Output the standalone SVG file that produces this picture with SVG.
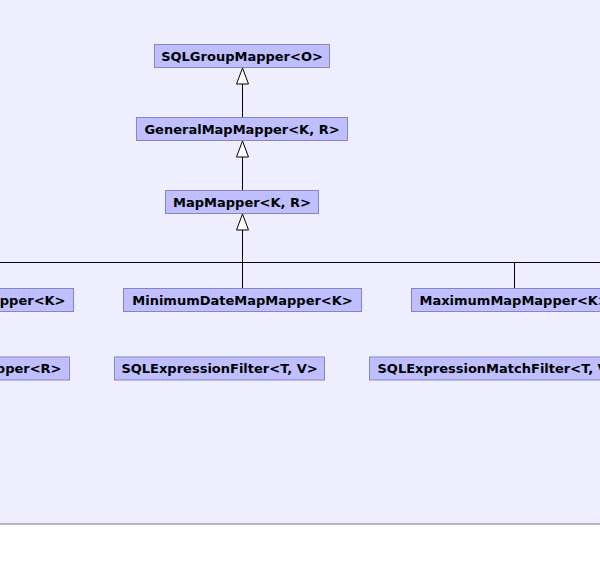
<svg xmlns="http://www.w3.org/2000/svg" width="600" height="562" viewBox="0 0 600 562">
<style>
.node rect{fill:#bfbfff;stroke:#8585c0;stroke-width:1}
.node text{font-family:"DejaVu Sans",sans-serif;font-weight:bold;font-size:13px;fill:#000}
.edge{stroke:#000;stroke-width:1;fill:none}
.head{fill:#fff;stroke:#000;stroke-width:1}
</style>
<rect x="0" y="0" width="600" height="524" fill="#eeeeff"/>
<line x1="0" y1="524" x2="600" y2="524" stroke="#a0a0b4" stroke-width="1.5"/>
<g id="connectors">
<line class="edge" x1="242.5" y1="84" x2="242.5" y2="117.5"/>
<polygon class="head" points="242.5,68 236.5,84 248.5,84"/>
<line class="edge" x1="242.5" y1="157" x2="242.5" y2="190.5"/>
<polygon class="head" points="242.5,141 236.5,157 248.5,157"/>
<line class="edge" x1="242.5" y1="230" x2="242.5" y2="288.5"/>
<polygon class="head" points="242.5,214 236.5,230 248.5,230"/>
<line class="edge" x1="0" y1="262.5" x2="600" y2="262.5"/>
<line class="edge" x1="514.5" y1="262.5" x2="514.5" y2="288.5"/>
</g>
<g id="n-sqlgroupmapper" class="node"><rect x="154.5" y="44.5" width="175" height="23"/><text x="242" y="60.5" text-anchor="middle">SQLGroupMapper&lt;O&gt;</text></g>
<g id="n-generalmapmapper" class="node"><rect x="136.5" y="117.5" width="211" height="23"/><text x="242" y="133.5" text-anchor="middle">GeneralMapMapper&lt;K, R&gt;</text></g>
<g id="n-mapmapper" class="node"><rect x="165.5" y="190.5" width="153" height="23"/><text x="242" y="206.5" text-anchor="middle">MapMapper&lt;K, R&gt;</text></g>
<g id="n-left-top" class="node"><rect x="-150.5" y="288.5" width="224" height="23"/><text x="65.5" y="304.5" text-anchor="end">MapMapper&lt;K&gt;</text></g>
<g id="n-minimumdatemapmapper" class="node"><rect x="123.5" y="288.5" width="238" height="23"/><text x="242.5" y="304.5" text-anchor="middle">MinimumDateMapMapper&lt;K&gt;</text></g>
<g id="n-maximummapmapper" class="node"><rect x="411.5" y="288.5" width="206" height="23"/><text x="419.5" y="304.5">MaximumMapMapper&lt;K&gt;</text></g>
<g id="n-left-bottom" class="node"><rect x="-150.5" y="357" width="220" height="23"/><text x="61.5" y="373" text-anchor="end">MapMapper&lt;R&gt;</text></g>
<g id="n-sqlexpressionfilter" class="node"><rect x="114.5" y="357" width="210" height="23"/><text x="219.5" y="373" text-anchor="middle">SQLExpressionFilter&lt;T, V&gt;</text></g>
<g id="n-sqlexpressionmatchfilter" class="node"><rect x="369.5" y="357" width="262" height="23"/><text x="377.5" y="373">SQLExpressionMatchFilter&lt;T, V&gt;</text></g>
</svg>
